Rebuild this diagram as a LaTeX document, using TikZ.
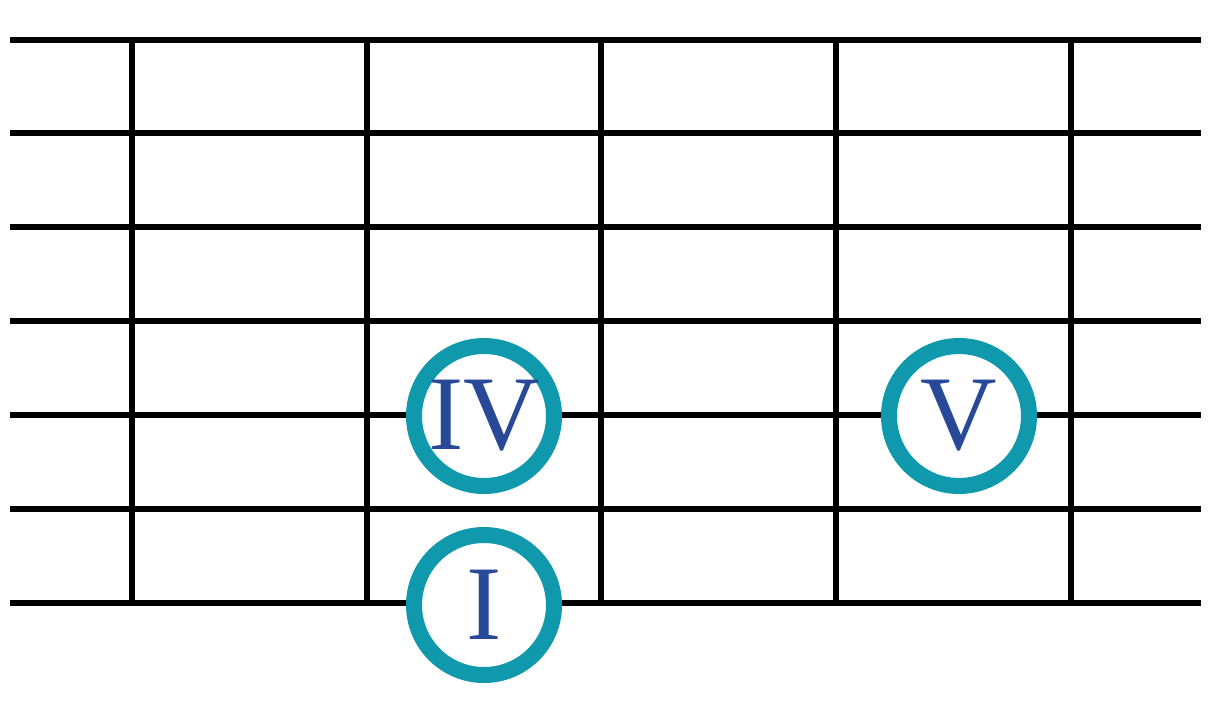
\documentclass[tikz,border=0pt]{standalone}
\usepackage{fontspec}
\setmainfont{Liberation Serif}
\definecolor{ringteal}{RGB}{16,152,172}
\definecolor{numblue}{RGB}{40,72,152}
\begin{document}
\begin{tikzpicture}[x=1pt,y=-1pt,
  gridline/.style={line width=6pt,black},
  degree/.style={circle,draw=ringteal,fill=white,line width=16pt,minimum size=140pt,inner sep=0pt,
    text=numblue,font=\fontsize{106}{106}\selectfont}]
\useasboundingbox[fill=white] (0,0) rectangle (1227,704);
% strings
\foreach \y in {40,133,227,321,415,509,603}
  \draw[gridline] (10,\y) -- (1201,\y);
% frets
\foreach \x in {132,367,601,836,1071}
  \draw[gridline] (\x,37) -- (\x,606);
\node[degree] (iv) at (484,416) {IV};
\node[degree] (v) at (959,416) {V};
\node[degree] (i) at (484,605) {I};
\end{tikzpicture}
\end{document}
